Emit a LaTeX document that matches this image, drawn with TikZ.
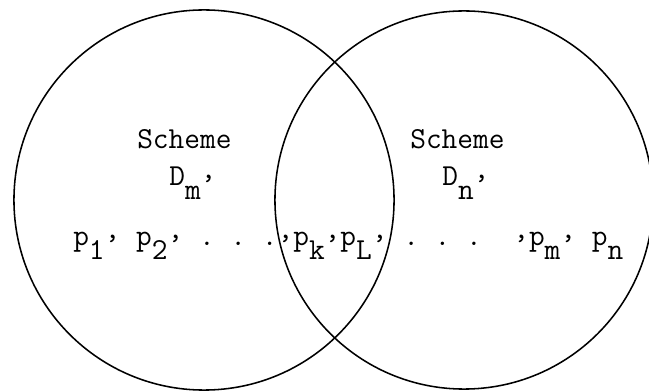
\documentclass[tikz,border=0pt]{standalone}
\usepackage{tikz}
\newcommand{\lowr}[1]{\raisebox{-.45em}{#1}}
\newcommand{\tcomma}{\raisebox{.25em}{,}}
\tikzset{
  scheme/.style={circle,draw,line width=1.1pt,inner sep=0pt,minimum size=#1},
  tw/.style={inner sep=0pt,anchor=base west,font=\fontsize{21.7}{26}\selectfont\ttfamily},
}
\frenchspacing
\begin{document}
\begin{tikzpicture}[x=0.025cm,y=-0.025cm]
  \useasboundingbox (0,0) rectangle (649,392);
  % the two schemes
  \node[scheme=9.5cm] (Dm) at (204,200) {};
  \node[scheme=9.45cm] (Dn) at (464,200) {};
  % names
  \node[tw] (schemem) at (137,149) {Scheme};
  \node[tw] (namem) at (169,186) {D\lowr{m}\tcomma};
  \node[tw] (schemen) at (410,149) {Scheme};
  \node[tw] (namen) at (442,186) {D\lowr{n}\tcomma};
  % the points
  \node[tw] (points) at (73,246) {p\lowr{1}\tcomma\ p\lowr{2}\tcomma\ .\ .\ .\tcomma p\lowr{k}\tcomma p\lowr{L}\tcomma\ .\ .\ .\ \ \tcomma p\lowr{m}\tcomma\ p\lowr{n}};
\end{tikzpicture}
\end{document}
